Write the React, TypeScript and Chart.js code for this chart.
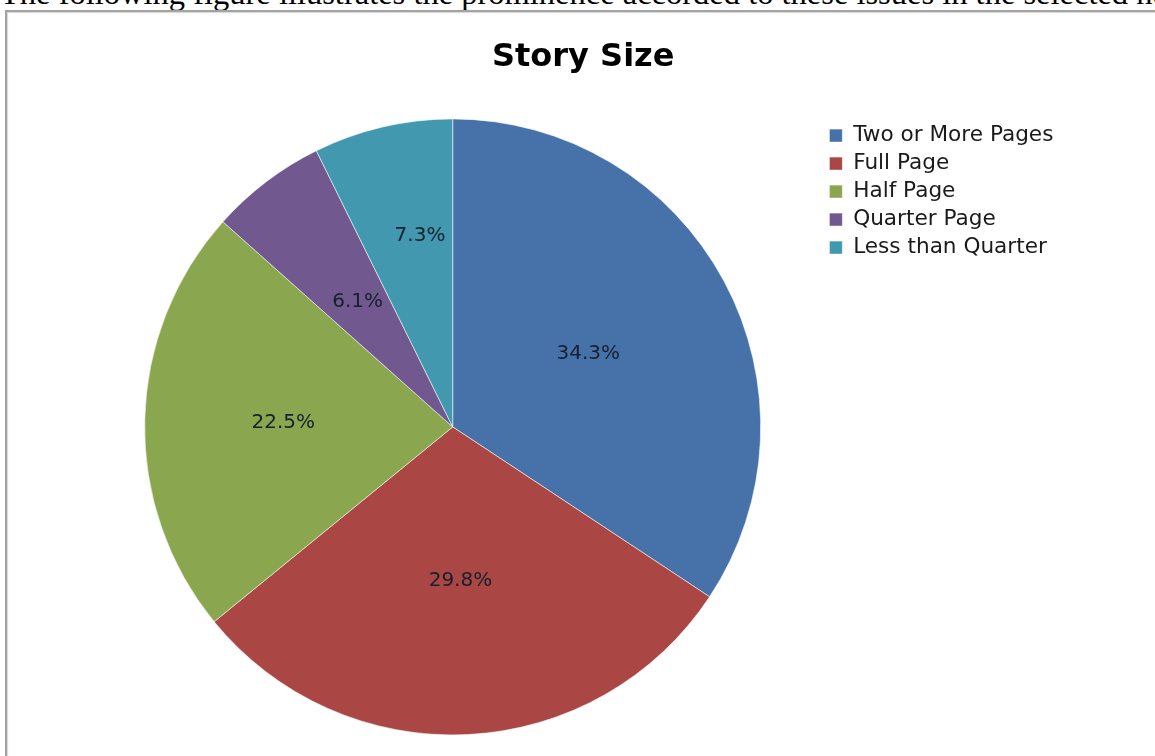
import React, { useEffect, useRef } from "react";
import { Chart, registerables } from "chart.js";

Chart.register(...registerables);

const TITLE = "Story Size";
const CATEGORIES = ["Two or More Pages", "Full Page", "Half Page", "Quarter Page", "Less than Quarter"];
const SHARES = [34.3, 29.8, 22.5, 6.1, 7.3];
const COLORS = ["#4672A9", "#AA4643", "#8AA64F", "#71588F", "#4198AF"];
const LABEL_RADIUS = [0.5, 0.5, 0.55, 0.51, 0.63];
const LABEL_TURN = [0, 0, 0, 0, 0.06];
const INTRO = "The following figure illustrates the prominence accorded to these issues in the selected newspapers";

const pctLabels = {
  id: "pctLabels",
  afterDatasetsDraw(chart: any) {
    const ctx = chart.ctx;
    const meta = chart.getDatasetMeta(0);
    ctx.save();
    ctx.font = "20px 'DejaVu Sans'";
    ctx.fillStyle = "#17202e";
    ctx.textAlign = "center";
    ctx.textBaseline = "middle";
    meta.data.forEach((arc: any, i: number) => {
      const p = arc.getProps(["x", "y", "startAngle", "endAngle", "outerRadius"], true);
      const mid = (p.startAngle + p.endAngle) / 2 + LABEL_TURN[i];
      const r = p.outerRadius * LABEL_RADIUS[i];
      ctx.fillText(SHARES[i].toFixed(1) + "%", p.x + Math.cos(mid) * r, p.y + Math.sin(mid) * r);
    });
    ctx.restore();
  },
};

export default function App() {
  const ref = useRef<HTMLCanvasElement>(null);
  useEffect(() => {
    if (!ref.current) return;
    const baseLabels = (Chart as any).overrides.pie.plugins.legend.labels.generateLabels;
    const chart = new Chart(ref.current, {
      type: "pie",
      data: {
        labels: CATEGORIES,
        datasets: [
          {
            data: SHARES,
            backgroundColor: COLORS,
            borderColor: "rgba(255,255,255,0.55)",
            borderWidth: 1,
          },
        ],
      },
      options: {
        responsive: false,
        animation: false,
        devicePixelRatio: 1,
        layout: { padding: { left: 82.4, right: 71, top: 0, bottom: 20.6 } },
        plugins: {
          title: {
            display: true,
            text: TITLE,
            color: "#000000",
            font: { family: "'DejaVu Sans'", size: 32, weight: "bold" },
            padding: { top: 38, bottom: 42 },
          },
          legend: {
            display: true,
            position: "right",
            align: "start",
            fullSize: false,
            labels: {
              font: { family: "'DejaVu Sans'", size: 21.6 },
              color: "#1a1a1a",
              boxWidth: 13,
              boxHeight: 13,
              padding: 6.4,
              generateLabels: (c: any) =>
                baseLabels(c).map((it: any, i: number) => (i === 0 ? { ...it, text: it.text + "   " } : it)),
            },
          },
          tooltip: { enabled: false },
        },
      },
      plugins: [pctLabels],
    });
    return () => chart.destroy();
  }, []);

  return (
    <div style={{ position: "fixed", left: 0, top: 0, width: 1155, height: 756, overflow: "hidden", background: "#ffffff" }}>
      <div
        style={{
          position: "absolute",
          left: 0,
          top: -23,
          whiteSpace: "nowrap",
          fontFamily: "'Liberation Serif', serif",
          fontSize: 32.5,
          lineHeight: "32.5px",
          color: "#000",
        }}
      >
        {INTRO}
      </div>
      <div
        style={{
          position: "absolute",
          left: 5,
          top: 10,
          width: 1300,
          height: 900,
          borderLeft: "2px solid #a3a3a3",
          borderTop: "2px solid #a3a3a3",
          boxShadow: "inset 1px 1px 1px #d8d8d8",
        }}
      />
      <canvas ref={ref} width={1155} height={756} style={{ position: "absolute", left: 0, top: 0, width: 1155, height: 756 }} />
    </div>
  );
}
